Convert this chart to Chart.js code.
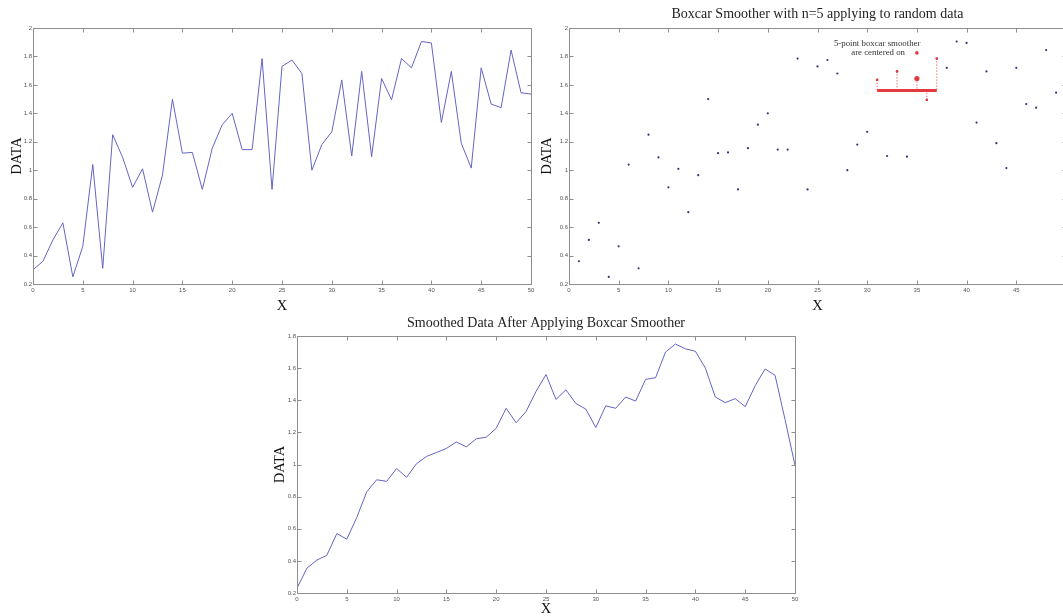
<!DOCTYPE html>
<html>
<head>
<meta charset="utf-8">
<script src="https://cdn.jsdelivr.net/npm/chart.js@4.4.1/dist/chart.umd.min.js"></script>
<style>
  html, body { margin: 0; padding: 0; background: #fff; }
  body { width: 1063px; height: 616px; position: relative; overflow: hidden; }
  canvas { position: absolute; }
</style>
</head>
<body>
<canvas id="rawChart" width="545" height="316" style="left:0px;top:0px"></canvas>
<canvas id="boxcarChart" width="546" height="316" style="left:535px;top:0px"></canvas>
<canvas id="smoothChart" width="545" height="308" style="left:265px;top:310px"></canvas>
<script>
// ================== DATA ============================== //
const xValues = Array.from({ length: 51 }, (_, i) => i);

// random data
const rawData = [
  0.30, 0.36, 0.51, 0.63, 0.25, 0.465, 1.04, 0.31, 1.25, 1.09,
  0.88, 1.01, 0.705, 0.965, 1.50, 1.12, 1.125, 0.865, 1.155, 1.32,
  1.40, 1.145, 1.145, 1.785, 0.865, 1.73, 1.775, 1.68, 1.00, 1.18,
  1.27, 1.635, 1.10, 1.695, 1.095, 1.645, 1.495, 1.785, 1.72, 1.905,
  1.895, 1.335, 1.695, 1.19, 1.015, 1.72, 1.465, 1.44, 1.845, 1.545,
  1.535
];

// boxcar smoothed data (bottom plot)
const smoothData = [
  0.23, 0.355, 0.405, 0.435, 0.57, 0.535, 0.67, 0.83, 0.905, 0.895,
  0.975, 0.92, 1.005, 1.05, 1.075, 1.10, 1.14, 1.11, 1.16, 1.17,
  1.225, 1.35, 1.26, 1.33, 1.455, 1.56, 1.405, 1.465, 1.38, 1.345,
  1.23, 1.365, 1.35, 1.42, 1.395, 1.53, 1.54, 1.70, 1.75, 1.72,
  1.705, 1.60, 1.42, 1.385, 1.41, 1.36, 1.49, 1.595, 1.555, 1.28,
  0.995
];

// highlighted window in the middle plot
const windowX = [31, 33, 35, 36, 37];
const centerX = 35;
const windowBarX = [31, 37];
const windowBarY = 1.56;
const noteDot = { x: 35, y: 1.825 };

const xTicks = { min: 0, max: 50, step: 5 };
const yTicksTop = { min: 0.2, max: 2, step: 0.2 };
const yTicksBottom = { min: 0.2, max: 1.8, step: 0.2 };

const titleTopRight = 'Boxcar Smoother with n=5 applying to random data';
const titleBottom = 'Smoothed Data After Applying Boxcar Smoother';
const noteLines = ['5-point boxcar smoother', 'are centered on'];

// ================== STYLE ============================== //
const lineBlue = '#6464c4';
const dotBlue = '#34347a';
const red = '#e23a3f';
const boxGray = '#8e8e8e';
const tickFont = { family: 'Liberation Sans', size: 6 };
const labelFont = { family: 'Liberation Serif', size: 14.5 };
const titleFont = { family: 'Liberation Serif', size: 14, weight: 'normal' };

// MATLAB-like box with inward tick marks on all four sides
const matlabBox = {
  id: 'matlabBox',
  afterDraw(chart) {
    const { ctx, chartArea: a, scales: { x, y } } = chart;
    const L = Math.round(a.left) + 0.5, R = Math.round(a.right) + 0.5;
    const T = Math.round(a.top) + 0.5, B = Math.round(a.bottom) + 0.5;
    ctx.save();
    ctx.strokeStyle = boxGray;
    ctx.lineWidth = 1;
    ctx.beginPath();
    ctx.rect(L, T, R - L, B - T);
    x.ticks.forEach(t => {
      const px = Math.round(x.getPixelForValue(t.value)) + 0.5;
      ctx.moveTo(px, B); ctx.lineTo(px, B - 4);
      ctx.moveTo(px, T); ctx.lineTo(px, T + 4);
    });
    y.ticks.forEach(t => {
      const py = Math.round(y.getPixelForValue(t.value)) + 0.5;
      ctx.moveTo(L, py); ctx.lineTo(L + 4, py);
      ctx.moveTo(R, py); ctx.lineTo(R - 4, py);
    });
    ctx.stroke();
    ctx.restore();
  }
};

// small note text above the window
const boxcarNote = {
  id: 'boxcarNote',
  afterDatasetsDraw(chart) {
    const { ctx, scales: { x, y } } = chart;
    ctx.save();
    ctx.font = '8.8px "Liberation Serif"';
    ctx.fillStyle = '#333';
    ctx.textAlign = 'center';
    ctx.textBaseline = 'middle';
    ctx.fillText(noteLines[0], x.getPixelForValue(31.0), y.getPixelForValue(1.89));
    ctx.fillText(noteLines[1], x.getPixelForValue(31.1), y.getPixelForValue(noteDot.y));
    ctx.restore();
  }
};

function fmt(v) { return +Number(v).toFixed(1); }

function xScale(height, titlePad) {
  return {
    type: 'linear', min: xTicks.min, max: xTicks.max,
    ticks: { stepSize: xTicks.step, font: tickFont, color: '#555', padding: 3, maxRotation: 0, autoSkip: false },
    grid: { display: false, drawTicks: false },
    border: { display: false },
    title: { display: true, text: 'X', font: labelFont, color: '#111', padding: { top: 0, bottom: titlePad } },
    afterFit(s) { s.height = height; }
  };
}

function yScale(range, width, titlePad) {
  return {
    type: 'linear', min: range.min, max: range.max,
    ticks: { stepSize: range.step, font: tickFont, color: '#555', padding: 1, callback: fmt },
    grid: { display: false, drawTicks: false },
    border: { display: false },
    title: { display: true, text: 'DATA', font: labelFont, color: '#111', padding: { top: titlePad, bottom: 0 } },
    afterFit(s) { s.width = width; }
  };
}

function toPoints(ys) { return ys.map((v, i) => ({ x: xValues[i], y: v })); }

const baseOptions = {
  responsive: false,
  animation: false,
  events: []
};

// ================== TOP LEFT: RAW DATA LINE ============================== //
new Chart(document.getElementById('rawChart'), {
  type: 'line',
  data: {
    datasets: [{
      data: toPoints(rawData),
      borderColor: lineBlue, borderWidth: 1, pointRadius: 0, tension: 0, fill: false
    }]
  },
  options: {
    ...baseOptions,
    layout: { padding: { top: 28, right: 14, left: 0, bottom: 0 } },
    plugins: { legend: { display: false }, tooltip: { enabled: false } },
    scales: { x: xScale(32, 1.3), y: yScale(yTicksTop, 33, 8.3) }
  },
  plugins: [matlabBox]
});

// ================== TOP RIGHT: SCATTER + WINDOW ============================== //
const stemSets = windowX.map(wx => ({
  data: [{ x: wx, y: rawData[wx] }, { x: wx, y: windowBarY }],
  showLine: true, borderColor: red, borderWidth: 1, borderDash: [1, 2],
  pointRadius: 0, order: 3
}));

new Chart(document.getElementById('boxcarChart'), {
  type: 'scatter',
  data: {
    datasets: [
      {
        data: windowX.map(wx => ({ x: wx, y: rawData[wx] })),
        pointRadius: windowX.map(wx => wx === centerX ? 2.6 : 1.3),
        pointBackgroundColor: red, pointBorderWidth: 0, order: 0
      },
      {
        data: [noteDot],
        pointRadius: 1.8, pointBackgroundColor: red, pointBorderWidth: 0, order: 0
      },
      {
        data: windowBarX.map(bx => ({ x: bx, y: windowBarY })),
        showLine: true, borderColor: red, borderWidth: 3, pointRadius: 0, order: 1
      },
      ...stemSets,
      {
        data: toPoints(rawData),
        pointRadius: 1.1, pointBackgroundColor: dotBlue, pointBorderWidth: 0, order: 5
      }
    ]
  },
  options: {
    ...baseOptions,
    layout: { padding: { top: 0, right: 15, left: 0, bottom: 0 } },
    plugins: {
      legend: { display: false }, tooltip: { enabled: false },
      title: { display: true, text: titleTopRight, font: titleFont, color: '#222', fullSize: false, padding: { top: 5.6, bottom: 5.6 } }
    },
    scales: { x: xScale(32, 1.3), y: yScale(yTicksTop, 34, 3.3) }
  },
  plugins: [matlabBox, boxcarNote]
});

// ================== BOTTOM: SMOOTHED DATA ============================== //
new Chart(document.getElementById('smoothChart'), {
  type: 'line',
  data: {
    datasets: [{
      data: toPoints(smoothData),
      borderColor: lineBlue, borderWidth: 1, pointRadius: 0, tension: 0, fill: false
    }]
  },
  options: {
    ...baseOptions,
    layout: { padding: { top: 0, right: 15, left: 0, bottom: 0 } },
    plugins: {
      legend: { display: false }, tooltip: { enabled: false },
      title: { display: true, text: titleBottom, font: titleFont, color: '#222', fullSize: false, padding: { top: 4.6, bottom: 4.6 } }
    },
    scales: { x: xScale(25, 0.3), y: yScale(yTicksBottom, 32, 6.3) }
  },
  plugins: [matlabBox]
});
</script>
</body>
</html>
